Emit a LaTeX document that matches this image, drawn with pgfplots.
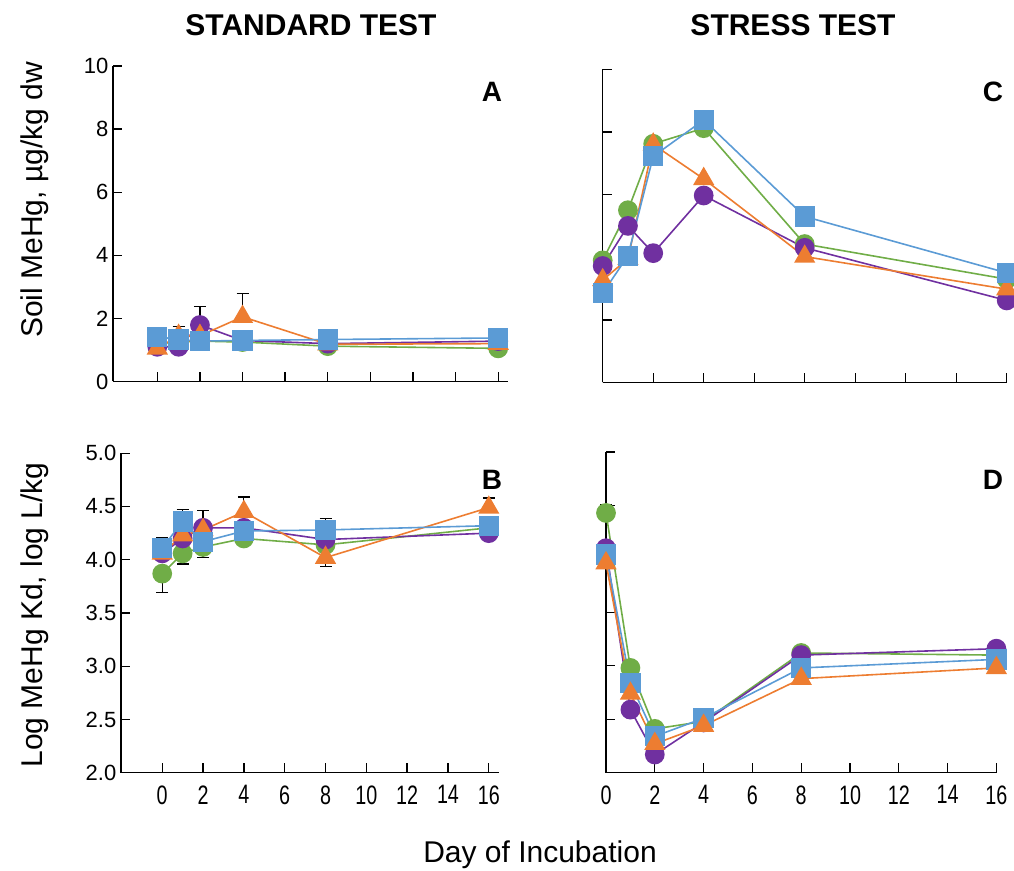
\documentclass[border=0pt]{standalone}
\usepackage{pgfplots}
\pgfplotsset{compat=1.18}
\usepackage{fontspec}
\setmainfont{Liberation Sans}
\newfontfamily\narrowfont[FakeStretch=0.74]{Liberation Sans}
\definecolor{cG}{HTML}{70AD47}
\definecolor{cO}{HTML}{ED7D31}
\definecolor{cP}{HTML}{7030A0}
\definecolor{cB}{HTML}{5B9BD5}
\pgfplotsset{
  base/.style={scale only axis, clip=false, anchor=south west,
    axis x line*=bottom, axis y line*=left,
    axis line style={line width=1.1pt, -},
    every tick/.style={black, line width=1pt},
    major tick length=7pt, tick align=inside,
    xtick={0,2,...,16},
    /pgf/number format/assume math mode=true,
    yticklabel style={font=\fontsize{16.5}{18}\selectfont},
    xticklabel style={font=\narrowfont\fontsize{20}{22}\selectfont, yshift=-6pt},
  },
  gr/.style={color=cG, line width=1.2pt, mark=*, mark size=6.8pt},
  pu/.style={color=cP, line width=1.2pt, mark=*, mark size=6.8pt},
  or/.style={color=cO, line width=1.2pt, mark=triangle*, mark size=8pt},
  bl/.style={color=cB, line width=1.2pt, mark=square*, mark size=7pt},
  eb/.style={only marks, mark=none, black,
    error bars/.cd, y dir=both, y explicit,
    error bar style={draw=black, line width=0.9pt},
    error mark options={rotate=90, mark size=4.5pt, draw=black, line width=0.9pt}},
}
\begin{document}
\begin{tikzpicture}
\path[use as bounding box] (0,0) rectangle (760.5pt,653.25pt);
% Panel A
\begin{axis}[base, at={(84.75pt,367.125pt)}, width=296.25pt, height=236.625pt,
  xmin=-2.08, xmax=16.46, ymin=0, ymax=10, ytick={0,2,...,10}, xticklabels={}]
\addplot[eb] coordinates {(1,1.45) += (0,0.29) -= (0,0) (2,1.79) += (0,0.58) -= (0,0) (4,2.05) += (0,0.75) -= (0,0)};
\addplot[gr] coordinates {(0,1.2)(1,1.25)(2,1.28)(4,1.25)(8,1.12)(16,1.05)};
\addplot[pu] coordinates {(0,1.1)(1,1.1)(2,1.79)(4,1.3)(8,1.2)(16,1.28)};
\addplot[or] coordinates {(0,1.05)(1,1.45)(2,1.45)(4,2.05)(8,1.18)(16,1.2)};
\addplot[bl] coordinates {(0,1.42)(1,1.33)(2,1.28)(4,1.3)(8,1.33)(16,1.38)};
\end{axis}
% Panel B
\begin{axis}[base, at={(90.75pt,73.725pt)}, width=283.5pt, height=239.55pt,
  xmin=-2.02, xmax=16.5, ymin=2, ymax=5, ytick={2,2.5,...,5},
  yticklabel style={/pgf/number format/.cd, fixed, fixed zerofill, precision=1}]
\addplot[eb] coordinates {(0,3.87) += (0,0) -= (0,0.18) (1,4.06) += (0,0) -= (0,0.10) (2,4.12) += (0,0) -= (0,0.10)
  (0,4.11) += (0,0.10) -= (0,0) (1,4.36) += (0,0.11) -= (0,0) (2,4.30) += (0,0.16) -= (0,0)
  (4,4.45) += (0,0.14) -= (0,0) (8,4.28) += (0,0.11) -= (0,0) (16,4.49) += (0,0.09) -= (0,0) (8,4.02) += (0,0) -= (0,0.08)};
\addplot[gr] coordinates {(0,3.87)(1,4.06)(2,4.12)(4,4.2)(8,4.14)(16,4.3)};
\addplot[pu] coordinates {(0,4.06)(1,4.2)(2,4.3)(4,4.3)(8,4.19)(16,4.25)};
\addplot[or] coordinates {(0,4.06)(1,4.23)(2,4.28)(4,4.45)(8,4.02)(16,4.49)};
\addplot[bl] coordinates {(0,4.11)(1,4.36)(2,4.17)(4,4.27)(8,4.28)(16,4.32)};
\end{axis}
% Panel C
\begin{axis}[base, at={(452.025pt,366.375pt)}, width=303pt, height=234.9pt,
  xmin=0, xmax=16, ymin=0, ymax=10, ytick={0,2,...,10}, xticklabels={}, yticklabels={}]
\addplot[gr] coordinates {(0,3.9)(1,5.5)(2,7.62)(4,8.12)(8,4.42)(16,3.3)};
\addplot[pu] coordinates {(0,3.72)(1,5.0)(2,4.13)(4,5.97)(8,4.3)(16,2.62)};
\addplot[or] coordinates {(0,3.27)(1,3.95)(2,7.6)(4,6.5)(8,4.02)(16,2.98)};
\addplot[bl] coordinates {(0,2.85)(1,4.05)(2,7.22)(4,8.38)(8,5.3)(16,3.5)};
\end{axis}
% Panel D
\begin{axis}[base, at={(454.5pt,73.725pt)}, width=292.8pt, height=240.525pt,
  xmin=0, xmax=16, ymin=2, ymax=5, ytick={2,2.5,...,5}, yticklabels={}]
\addplot[eb] coordinates {(0,4.43) += (0,0.08) -= (0,0)};
\addplot[gr] coordinates {(0,4.43)(1,2.98)(2,2.41)(4,2.48)(8,3.12)(16,3.10)};
\addplot[pu] coordinates {(0,4.10)(1,2.59)(2,2.17)(4,2.47)(8,3.10)(16,3.16)};
\addplot[bl] coordinates {(0,4.04)(1,2.84)(2,2.34)(4,2.51)(8,2.98)(16,3.06)};
\addplot[or] coordinates {(0,3.96)(1,2.74)(2,2.27)(4,2.44)(8,2.88)(16,2.98)};
\end{axis}
% Text
\node[font=\bfseries\fontsize{22.5}{26}\selectfont] at (233.25pt,634.5pt) {STANDARD TEST};
\node[font=\bfseries\fontsize{22.5}{26}\selectfont] at (594.75pt,634.5pt) {STRESS TEST};
\node[font=\fontsize{22.5}{26}\selectfont] at (405pt,12pt) {Day of Incubation};
\node[font=\fontsize{22.5}{26}\selectfont, rotate=90] at (26.25pt,503.25pt) {Soil MeHg, µg/kg dw};
\node[font=\fontsize{22.5}{26}\selectfont, rotate=90] at (26.25pt,192pt) {Log MeHg Kd, log L/kg};
\node[font=\bfseries\fontsize{21}{24}\selectfont] at (369pt,584.25pt) {A};
\node[font=\bfseries\fontsize{21}{24}\selectfont] at (369pt,293.25pt) {B};
\node[font=\bfseries\fontsize{21}{24}\selectfont] at (744.75pt,584.25pt) {C};
\node[font=\bfseries\fontsize{21}{24}\selectfont] at (744.75pt,293.25pt) {D};
\end{tikzpicture}
\end{document}
